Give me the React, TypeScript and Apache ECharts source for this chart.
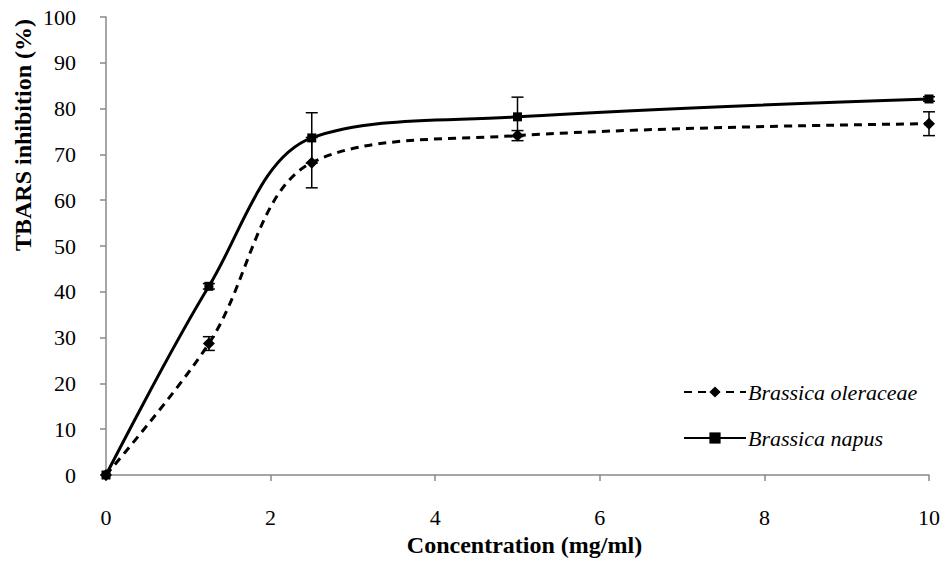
import React, { useEffect, useRef } from "react";
import * as echarts from "echarts";

const concentrations = [0, 1.25, 2.5, 5, 10];
const oleraceaeValues = [0, 28.7, 68.2, 74.1, 76.7];
const oleraceaeErrors = [0, 1.5, 5.5, 1.1, 2.6];
const napusValues = [0, 41.2, 73.6, 78.2, 82.1];
const napusErrors = [0, 0.6, 5.5, 4.3, 0.5];
const seriesNames = ["Brassica oleraceae", "Brassica napus"];
const yAxisTitle = "TBARS inhibition (%)";
const xAxisTitle = "Concentration (mg/ml)";

const FONT = "Liberation Serif";

function errorSeries(values: number[], errs: number[]) {
  const data = concentrations.map((c, i) => [c, values[i] - errs[i], values[i] + errs[i]]);
  return {
    type: "custom",
    silent: true,
    z: 5,
    data,
    renderItem: (params: any, api: any) => {
      const x = api.value(0);
      const lo = api.coord([x, api.value(1)]);
      const hi = api.coord([x, api.value(2)]);
      if (Math.abs(hi[1] - lo[1]) < 1) return { type: "group", children: [] };
      const w = 6;
      const style = { stroke: "#000", lineWidth: 1.5 };
      return {
        type: "group",
        children: [
          { type: "line", shape: { x1: lo[0], y1: lo[1], x2: hi[0], y2: hi[1] }, style },
          { type: "line", shape: { x1: lo[0] - w, y1: lo[1], x2: lo[0] + w, y2: lo[1] }, style },
          { type: "line", shape: { x1: hi[0] - w, y1: hi[1], x2: hi[0] + w, y2: hi[1] }, style },
        ],
      };
    },
  };
}

export default function App() {
  const ref = useRef<HTMLDivElement>(null);
  useEffect(() => {
    const chart = echarts.init(ref.current!, null, { renderer: "svg" });
    chart.setOption({
      animation: false,
      backgroundColor: "#fff",
      textStyle: { fontFamily: FONT },
      grid: { left: 106, right: 15, top: 17, bottom: 89 },
      graphic: [
        {
          type: "text",
          x: 23,
          y: 135,
          rotation: Math.PI / 2,
          style: {
            text: yAxisTitle,
            fontFamily: FONT,
            fontSize: 24,
            fontWeight: "bold",
            fill: "#000",
            align: "center",
            verticalAlign: "middle",
          },
        },
      ],
      xAxis: {
        type: "value",
        min: 0,
        max: 10,
        interval: 2,
        name: xAxisTitle,
        nameLocation: "middle",
        nameGap: 56,
        nameTextStyle: { fontFamily: FONT, fontSize: 24, fontWeight: "bold", color: "#000", padding: [0, 0, 0, 14] },
        axisLine: { lineStyle: { color: "#888", width: 1.5 } },
        axisTick: { show: true, length: 6, lineStyle: { color: "#888", width: 1.5 } },
        axisLabel: { fontFamily: FONT, fontSize: 22, color: "#000", margin: 31 },
        splitLine: { show: false },
      },
      yAxis: {
        type: "value",
        min: 0,
        max: 100,
        interval: 10,
        axisLine: { show: true, lineStyle: { color: "#888", width: 1.5 } },
        axisTick: { show: true, length: 6, lineStyle: { color: "#888", width: 1.5 } },
        axisLabel: { fontFamily: FONT, fontSize: 22, color: "#000", margin: 30 },
        splitLine: { show: false },
      },
      legend: {
        orient: "vertical",
        left: 678,
        top: 376,
        itemGap: 24,
        itemWidth: 62,
        itemHeight: 14,
        data: seriesNames,
        textStyle: { fontFamily: FONT, fontSize: 22, fontStyle: "italic", color: "#000", padding: [0, 0, 0, -3] },
      },
      series: [
        {
          name: seriesNames[0],
          type: "line",
          smooth: 0.35,
          data: concentrations.map((c, i) => [c, oleraceaeValues[i]]),
          symbol: "diamond",
          symbolSize: 12,
          itemStyle: { color: "#000" },
          lineStyle: { color: "#000", width: 3, type: [8, 6] },
          z: 3,
        },
        {
          name: seriesNames[1],
          type: "line",
          smooth: 0.35,
          data: concentrations.map((c, i) => [c, napusValues[i]]),
          symbol: "rect",
          symbolSize: 9,
          itemStyle: { color: "#000" },
          lineStyle: { color: "#000", width: 3, type: "solid" },
          z: 3,
        },
        errorSeries(oleraceaeValues, oleraceaeErrors),
        errorSeries(napusValues, napusErrors),
      ],
    });
    return () => chart.dispose();
  }, []);
  return <div ref={ref} style={{ width: 944, height: 564, position: "absolute", left: 0, top: 0 }} />;
}
